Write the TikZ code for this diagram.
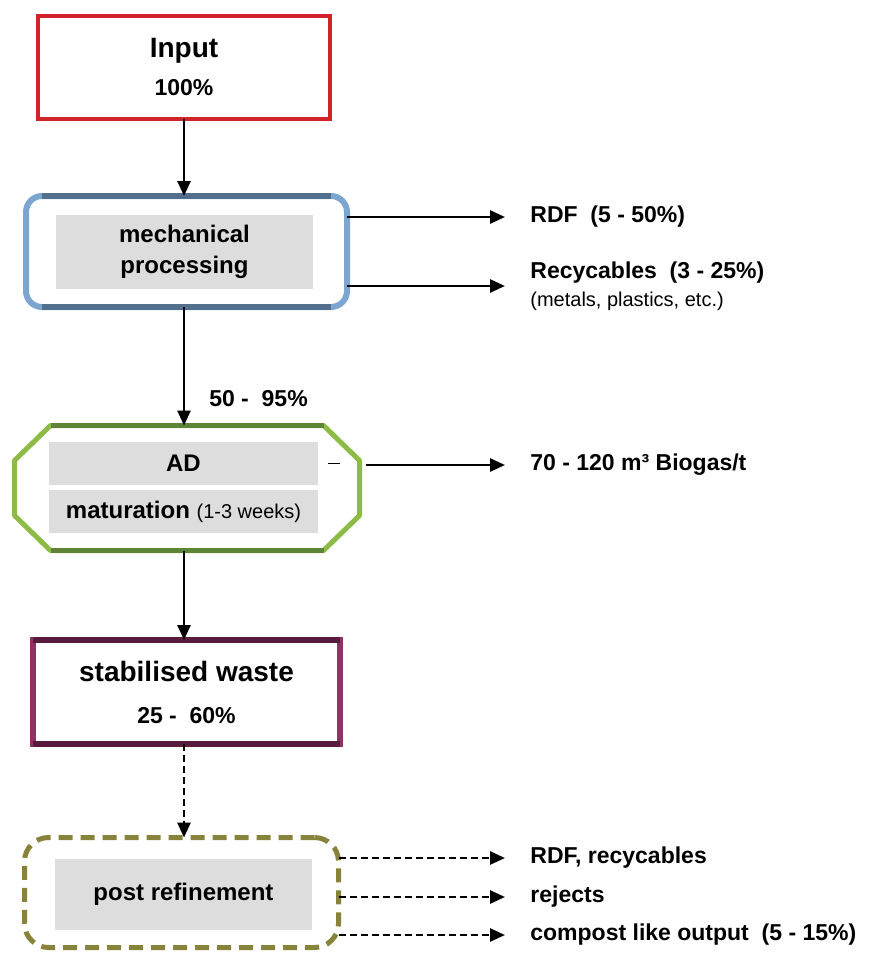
\documentclass[tikz,border=0pt]{standalone}
\usepackage{fontspec}
\setmainfont{Liberation Sans}
\usetikzlibrary{arrows.meta}

\definecolor{inred}{HTML}{D2232A}
\definecolor{mechlight}{HTML}{7CA6D0}
\definecolor{mechdark}{HTML}{52708E}
\definecolor{adlight}{HTML}{8CBB46}
\definecolor{addark}{HTML}{5E8435}
\definecolor{stablight}{HTML}{8E3363}
\definecolor{stabdark}{HTML}{5A1A3C}
\definecolor{postolive}{HTML}{87833A}
\definecolor{boxgray}{HTML}{DDDDDD}

\begin{document}
\begin{tikzpicture}[x=0.5pt, y=-0.5pt,
    bigbox/.style={rectangle, draw, fill=white, align=center, outer sep=0pt},
    frame/.style={rectangle, draw, fill=white, outer sep=0pt},
    inner/.style={rectangle, fill=boxgray, align=center, font=\fontsize{12}{15.5}\selectfont\bfseries},
    outlabel/.style={anchor=west, inner sep=0pt, align=left, font=\fontsize{11.5}{14}\selectfont\bfseries},
    arrow/.style={line width=1.3pt, -{Triangle[length=7.5pt, width=6.5pt]}},
    dasharrow/.style={arrow, dash pattern=on 3.5pt off 2pt}
    ]
    \useasboundingbox (0,0) rectangle (869,954);

    % Main column
    \node (input) [bigbox, draw=inred, line width=2pt, minimum width=146pt, minimum height=51.5pt,
        font=\fontsize{11.5}{19}\selectfont\bfseries] at (184,67) {{\fontsize{14}{19}\selectfont Input}\\100\%};

    \node (mech) [frame, rounded corners=8pt, draw=mechlight, line width=3pt, minimum width=160.5pt, minimum height=55.5pt] at (186.5,251.5) {};
    \draw [mechdark, line width=3pt] ([xshift=8pt]mech.north west) -- ([xshift=-8pt]mech.north east);
    \draw [mechdark, line width=3pt] ([xshift=8pt]mech.south west) -- ([xshift=-8pt]mech.south east);
    \node (mechtext) [inner, minimum width=128.5pt, minimum height=37pt] at (184.5,252) {mechanical\\processing};

    % octagon round AD and maturation
    \node (ad) [rectangle, outer sep=0pt, minimum width=172.5pt, minimum height=62.5pt] at (187,488) {};
    \draw [adlight, fill=white, line width=2.5pt, line join=bevel]
        ([xshift=18pt]ad.north west) -- ([xshift=-18pt]ad.north east) -- ([yshift=-17.5pt]ad.north east)
        -- ([yshift=17.5pt]ad.south east) -- ([xshift=-18pt]ad.south east) -- ([xshift=18pt]ad.south west)
        -- ([yshift=17.5pt]ad.south west) -- ([yshift=-17.5pt]ad.north west) -- cycle;
    \draw [addark, line width=2.5pt] ([xshift=18pt]ad.north west) -- ([xshift=-18pt]ad.north east);
    \draw [addark, line width=2.5pt] ([xshift=18pt]ad.south west) -- ([xshift=-18pt]ad.south east);
    \node (adtext) [inner, minimum width=134.5pt, minimum height=21.5pt] at (183.5,463.5) {AD};
    \node (mattext) [inner, minimum width=134.5pt, minimum height=21.5pt] at (183.5,511.5)
        {maturation {\fontsize{10}{12}\selectfont\mdseries (1-3 weeks)}};
    \coordinate (dashend) at (ad.east |- adtext.east);
    \draw [line width=0.5pt] ([xshift=-16pt]dashend) -- ([xshift=-10pt]dashend);

    \node (stab) [bigbox, draw=stablight, line width=3pt, minimum width=153.5pt, minimum height=52pt,
        font=\fontsize{11.5}{21}\selectfont\bfseries] at (186.5,692) {{\fontsize{14}{21}\selectfont stabilised waste}\\25 -~~60\%};
    \draw [stabdark, line width=3pt] (stab.north west) -- (stab.north east);
    \draw [stabdark, line width=3pt] (stab.south west) -- (stab.south east);

    \node (post) [frame, rounded corners=12pt, draw=postolive, line width=2.5pt, dash pattern=on 7pt off 4pt,
        minimum width=157pt, minimum height=55pt] at (181.5,892.5) {};
    \node (posttext) [inner, minimum width=128.5pt, minimum height=35.5pt] at (183.5,894.5) {post refinement};

    % Outputs
    \node (rdf) [outlabel] at (530,217) {RDF~~(5 - 50\%)};
    \node (recy) [outlabel] at (530,286) {Recycables~~(3 - 25\%)\\{\fontsize{10}{14}\selectfont\mdseries (metals, plastics, etc.)}};
    \node (biogas) [outlabel] at (530,465) {70 - 120 m³ Biogas/t};
    \node (pout1) [outlabel] at (530,858) {RDF, recycables};
    \node (pout2) [outlabel] at (530,897) {rejects};
    \node (pout3) [outlabel] at (530,935) {compost like output~~(5 - 15\%)};

    % Arrows
    \draw [arrow] (input) -- (input |- mech.north);
    \draw [arrow] (mech.south -| input) -- node (pct) [outlabel, pos=0.77, xshift=12pt] {50 -~~95\%} (input |- ad.north);
    \draw [arrow] (ad.south -| input) -- (input |- stab.north);
    \draw [dasharrow] (stab.south -| input) -- (input |- post.north);

    \draw [arrow, shorten >=12.5pt] (mech.east |- rdf.west) -- (rdf.west);
    \draw [arrow, shorten >=12.5pt] (mech.east |- recy.west) -- (recy.west);
    \draw [arrow, shorten <=3pt, shorten >=12.5pt] (ad.east |- biogas.west) -- (biogas.west);

    \draw [dasharrow, shorten >=12.5pt] (post.east |- pout1.west) -- (pout1.west);
    \draw [dasharrow, shorten >=12.5pt] (post.east |- pout2.west) -- (pout2.west);
    \draw [dasharrow, shorten >=12.5pt] (post.east |- pout3.west) -- (pout3.west);

\end{tikzpicture}
\end{document}
